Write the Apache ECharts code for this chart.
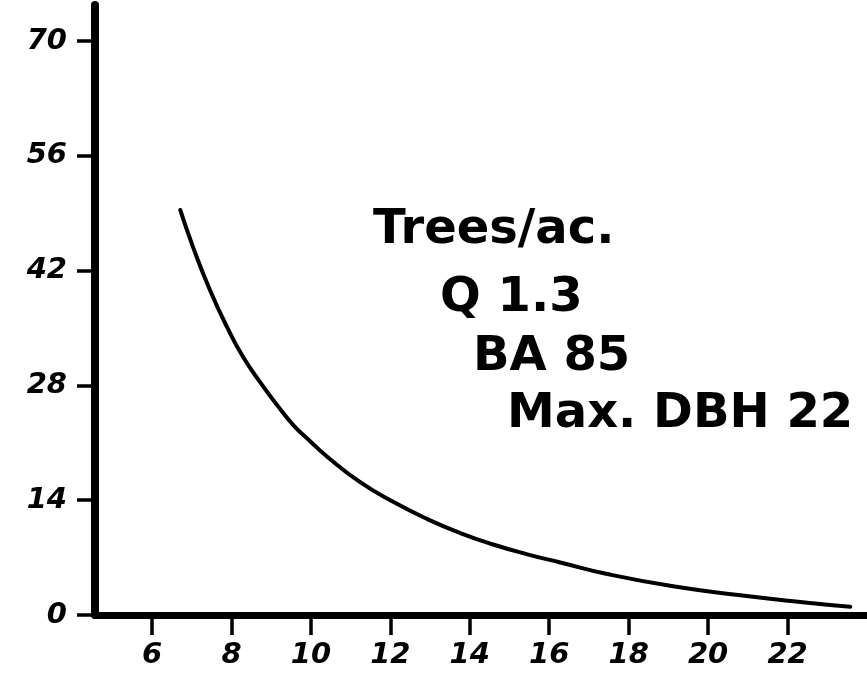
<!DOCTYPE html>
<html>
<head>
<meta charset="utf-8">
<script src="https://cdn.jsdelivr.net/npm/echarts@6/dist/echarts.min.js"></script>
<style>
html,body{margin:0;padding:0;background:#fff;}
#chart{width:867px;height:682px;}
</style>
</head>
<body>
<div id="chart"></div>
<script>
// Data
const dbh = [6.71, 7.03, 7.46, 7.89, 8.29, 8.72, 9.15, 9.55, 9.98, 10.41, 11.24, 12.07, 12.93, 13.76, 14.59, 15.45, 16.28, 17.46, 19.12, 20.81, 22.50, 23.58];
const treesPerAcre = [49.4, 44.9, 39.6, 35.1, 31.5, 28.4, 25.6, 23.2, 21.2, 19.3, 16.2, 13.8, 11.7, 10.0, 8.6, 7.4, 6.4, 5.0, 3.5, 2.4, 1.5, 1.0];
const xTicks = [6, 8, 10, 12, 14, 16, 18, 20, 22];
const yTicks = [0, 14, 28, 42, 56, 70];
const noteLines = ["Trees/ac.", "Q 1.3", "BA 85", "Max. DBH 22"];

const chart = echarts.init(document.getElementById('chart'), null, {renderer: 'canvas'});
const labelFont = {
  fontFamily: 'DejaVu Sans',
  fontStyle: 'italic',
  fontWeight: 'bold',
  fontSize: 29,
  color: '#000'
};
const noteX = [373, 440, 473, 507];
const noteY = [231, 299, 358, 415];

chart.setOption({
  backgroundColor: '#fff',
  animation: false,
  grid: {left: 95, right: 0, top: 5, bottom: 67},
  xAxis: {
    type: 'value',
    min: 4.564,
    max: 24,
    axisLine: {show: true, lineStyle: {color: '#000', width: 7}},
    axisTick: {show: true, length: 20, customValues: xTicks, lineStyle: {color: '#000', width: 3.5}},
    axisLabel: Object.assign({customValues: xTicks, margin: 26}, labelFont),
    splitLine: {show: false}
  },
  yAxis: {
    type: 'value',
    min: 0,
    max: 74.4,
    axisLine: {show: true, lineStyle: {color: '#000', width: 8}},
    axisTick: {show: true, length: 18, customValues: yTicks, lineStyle: {color: '#000', width: 3.5}},
    axisLabel: Object.assign({customValues: yTicks, margin: 28}, labelFont),
    splitLine: {show: false}
  },
  series: [{
    type: 'line',
    smooth: 0.5,
    showSymbol: false,
    lineStyle: {color: '#000', width: 4, cap: 'round'},
    data: dbh.map((d, i) => [d, treesPerAcre[i]])
  }],
  graphic: noteLines.map((t, i) => ({
    type: 'text',
    x: noteX[i],
    y: noteY[i],
    style: {
      text: t,
      fill: '#000',
      fontFamily: 'DejaVu Sans',
      fontWeight: 'bold',
      fontSize: 48,
      textAlign: 'left',
      textVerticalAlign: 'middle'
    }
  }))
});
</script>
</body>
</html>
